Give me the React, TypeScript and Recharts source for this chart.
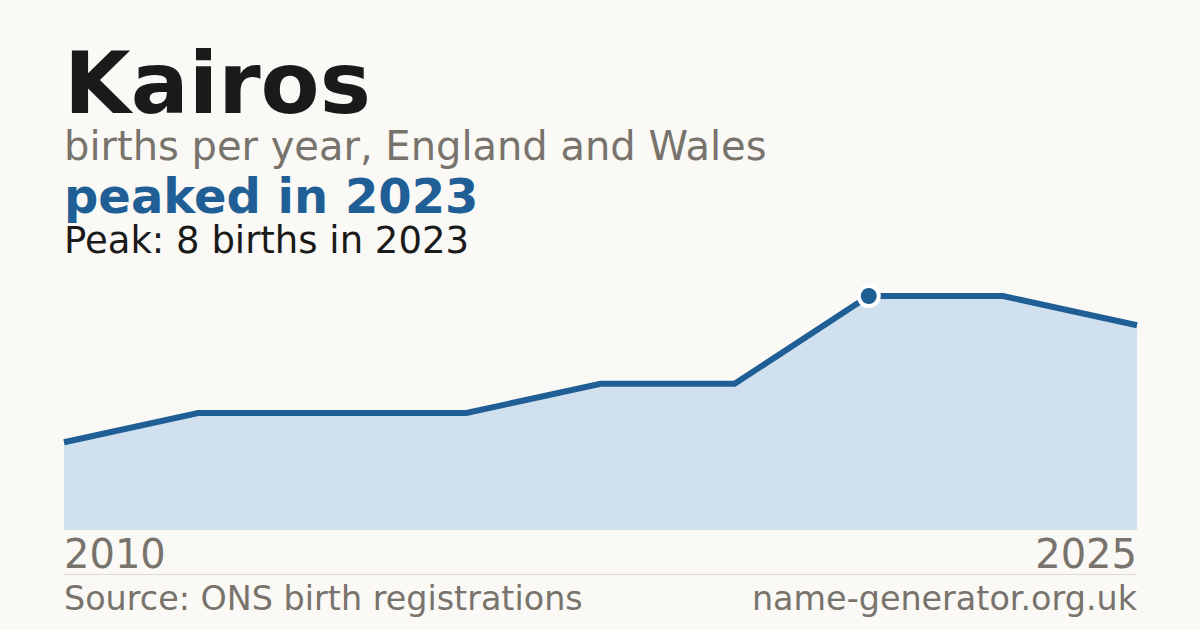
import { AreaChart, Area, XAxis, YAxis } from 'recharts';

const years = ['2010', '2012', '2014', '2016', '2018', '2020', '2023', '2024', '2025'];
const births = [3, 4, 4, 4, 5, 5, 8, 8, 7];
const edgeTicks = ['2010', '2025'];

const PEAK_INDEX = births.indexOf(Math.max(...births));

const data = years.map((year, i) => ({ year, births: births[i] }));

const FONT = '"DejaVu Sans", sans-serif';
const BLUE = '#1f5f96';
const GREY = '#78736c';

const EdgeTick = (props: any) => {
  const { x, y, payload } = props;
  const anchor = payload.value === edgeTicks[0] ? 'start' : 'end';
  return (
    <text x={x} y={y + 30} textAnchor={anchor} fontSize={40} fill={GREY} fontFamily={FONT}>
      {payload.value}
    </text>
  );
};

const PeakDot = (props: any) => {
  const { cx, cy, index } = props;
  if (index !== PEAK_INDEX) return <g key={index} />;
  return <circle key={index} cx={cx} cy={cy} r={10} fill={BLUE} stroke="#ffffff" strokeWidth={4} />;
};

export default function App() {
  return (
    <div
      style={{
        position: 'absolute',
        top: 0,
        left: 0,
        width: 1200,
        height: 630,
        background: '#faf9f5',
        fontFamily: FONT,
        overflow: 'hidden',
      }}
    >
      <svg width={1200} height={630} style={{ position: 'absolute', left: 0, top: 0 }} fontFamily={FONT}>
        <text x={64} y={113} fontSize={86} fontWeight={700} fill="#1a1a1a">Kairos</text>
        <text x={64} y={160} fontSize={40} fill={GREY}>births per year, England and Wales</text>
        <text x={64} y={213} fontSize={48} fontWeight={700} fill={BLUE}>peaked in 2023</text>
        <text x={64} y={253} fontSize={37} fill="#1a1a1a">Peak: 8 births in 2023</text>
        <line x1={64} x2={1137} y1={574.5} y2={574.5} stroke="#dedad3" strokeWidth={1} />
        <text x={64} y={610} fontSize={33.4} fill={GREY}>Source: ONS birth registrations</text>
        <text x={1137} y={610} fontSize={33.4} fill={GREY} textAnchor="end">name-generator.org.uk</text>
      </svg>

      <div style={{ position: 'absolute', left: 0, top: 0 }}>
        <AreaChart width={1200} height={630} data={data} margin={{ top: 296, right: 63, bottom: 56, left: 64 }}>
          <XAxis
            dataKey="year"
            ticks={edgeTicks}
            interval={0}
            axisLine={false}
            tickLine={false}
            height={44}
            tick={<EdgeTick />}
          />
          <YAxis hide domain={[0, 8]} />
          <Area
            type="linear"
            dataKey="births"
            stroke={BLUE}
            strokeWidth={6}
            fill="#d0e0ef"
            fillOpacity={1}
            dot={<PeakDot />}
            activeDot={false}
            isAnimationActive={false}
          />
        </AreaChart>
      </div>
    </div>
  );
}
